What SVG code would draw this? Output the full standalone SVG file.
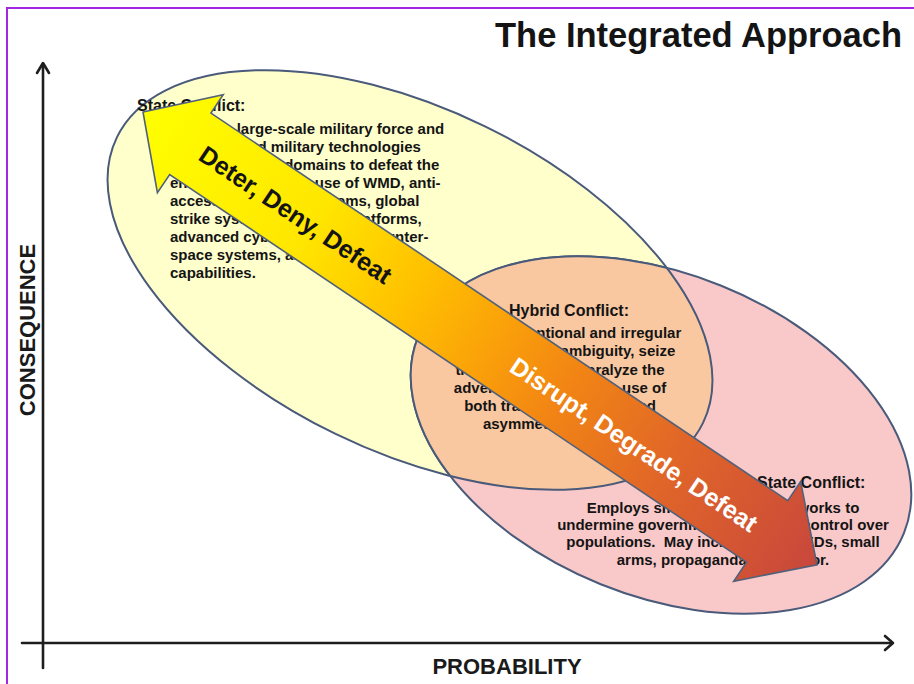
<svg xmlns="http://www.w3.org/2000/svg" width="914" height="684" viewBox="0 0 914 684">
  <style>
    text { font-family: "Liberation Sans", Arial, sans-serif; font-weight: bold; fill: #141414; }
    .h { font-size: 16px; }
    .b { font-size: 15px; }
    .ax { font-size: 22px; fill: #1a1a1a; }
    .outline { fill: none; stroke: #4A5A7A; stroke-width: 2; }
    .axis { fill: none; stroke: #1e1e1e; stroke-width: 2.6; stroke-linecap: round; stroke-linejoin: round; }
  </style>
  <defs>
    <clipPath id="clipYellow">
      <ellipse cx="410" cy="280" rx="326" ry="171" transform="rotate(26 410 280)"/>
    </clipPath>
    <clipPath id="clipPink">
      <ellipse cx="661" cy="435" rx="262" ry="161" transform="rotate(22 661 435)"/>
    </clipPath>
    <linearGradient id="arrowGrad" x1="0" y1="0" x2="1" y2="0">
      <stop offset="0" stop-color="#FFFF00"/>
      <stop offset="0.25" stop-color="#FFE600"/>
      <stop offset="0.4" stop-color="#FFC000"/>
      <stop offset="0.52" stop-color="#FAA00A"/>
      <stop offset="0.62" stop-color="#F28514"/>
      <stop offset="0.78" stop-color="#E06628"/>
      <stop offset="1" stop-color="#C8473C"/>
    </linearGradient>
  </defs>

  <rect x="0" y="0" width="914" height="684" fill="#FFFFFF"/>
  <rect x="7" y="8" width="920" height="690" fill="none" stroke="#A326E0" stroke-width="2"/>

  <text x="902" y="47" text-anchor="end" style="font-size:34.5px" fill="#0a0a0a">The Integrated Approach</text>

  <g id="axes">
    <path class="axis" d="M43,64 V668"/>
    <path class="axis" d="M37,73 L43,63 L49,73"/>
    <path class="axis" d="M22,643 H892"/>
    <path class="axis" d="M885,636 L893,643 L885,650"/>
    <text class="ax" transform="translate(35,330) rotate(-90)" text-anchor="middle">CONSEQUENCE</text>
    <text class="ax" x="507" y="674" text-anchor="middle">PROBABILITY</text>
  </g>

  <g id="node-state-conflict">
    <ellipse cx="410" cy="280" rx="326" ry="171" transform="rotate(26 410 280)" fill="#FFFFCC" stroke="#4A5A7A" stroke-width="2"/>
    <text class="h" x="137" y="111">State Conflict:</text>
    <text class="b" x="170" y="134">Employs large-scale military force and</text>
    <text class="b" x="170" y="152">sophisticated military technologies</text>
    <text class="b" x="170" y="170">across multiple domains to defeat the</text>
    <text class="b" x="170" y="188">enemy. May include use of WMD, anti-</text>
    <text class="b" x="170" y="206">access/area denial systems, global</text>
    <text class="b" x="170" y="224">strike systems, maritime platforms,</text>
    <text class="b" x="170" y="242">advanced cyber, space and counter-</text>
    <text class="b" x="170" y="260">space systems, and nuclear</text>
    <text class="b" x="170" y="278">capabilities.</text>
  </g>

  <g id="node-nonstate-conflict">
    <ellipse cx="661" cy="435" rx="262" ry="161" transform="rotate(22 661 435)" fill="#F9C8C8" stroke="#4A5A7A" stroke-width="2"/>
    <text class="h" x="757" y="488">State Conflict:</text>
    <text class="b" x="723" y="513" text-anchor="middle">Employs small, dispersed networks to</text>
    <text class="b" x="723" y="530" text-anchor="middle">undermine governments and gain control over</text>
    <text class="b" x="723" y="547" text-anchor="middle">populations.&#160; May include WMD, IEDs, small</text>
    <text class="b" x="723" y="565" text-anchor="middle">arms, propaganda, and terror.</text>
  </g>

  <g id="node-hybrid-conflict">
    <g clip-path="url(#clipYellow)">
      <ellipse cx="661" cy="435" rx="262" ry="161" transform="rotate(22 661 435)" fill="#F9C8A0" stroke="#4A5A7A" stroke-width="2"/>
    </g>
    <g clip-path="url(#clipPink)">
      <ellipse class="outline" cx="410" cy="280" rx="326" ry="171" transform="rotate(26 410 280)"/>
    </g>
    <text class="h" x="569" y="316" text-anchor="middle">Hybrid Conflict:</text>
    <text class="b" x="560" y="338" text-anchor="middle">Blends conventional and irregular</text>
    <text class="b" x="560" y="356" text-anchor="middle">forces to create ambiguity, seize</text>
    <text class="b" x="560" y="375" text-anchor="middle">the initiative and paralyze the</text>
    <text class="b" x="560" y="393" text-anchor="middle">adversary. May include use of</text>
    <text class="b" x="560" y="411" text-anchor="middle">both traditional tactics and</text>
    <text class="b" x="560" y="429" text-anchor="middle">asymmetric methods.</text>
  </g>

  <g id="connectors">
    <g transform="translate(143,112) rotate(33.9)">
      <polygon points="0,0 57,-59 57,-37 752,-37 752,-60 812,0 752,60 752,37 57,37 57,59" fill="url(#arrowGrad)" stroke="#52617A" stroke-width="1.6" stroke-linejoin="miter"/>
      <text x="184" y="0" dominant-baseline="central" text-anchor="middle" style="font-size:25px" fill="#111111">Deter, Deny, Defeat</text>
      <text x="593" y="2" dominant-baseline="central" text-anchor="middle" style="font-size:25px; fill:#FFFFFF">Disrupt, Degrade, Defeat</text>
    </g>
  </g>
</svg>
